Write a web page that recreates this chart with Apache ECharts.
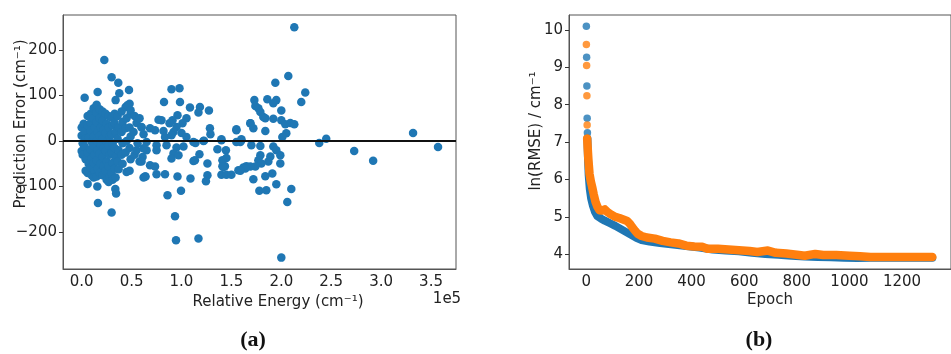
<!DOCTYPE html>
<html><head><meta charset="utf-8">
<script src="https://cdn.jsdelivr.net/npm/echarts/dist/echarts.min.js"></script>
<style>html,body{margin:0;padding:0;background:#fff}#c{width:951px;height:354px}</style>
</head><body><div id="c"></div>
<script>
// Panel (a): relative energy (units of 1e5 cm^-1) vs prediction error (cm^-1)
const errorPoints = [
 [0.00,30],[0.00,12],[0.01,-5],[0.00,-22],[0.01,-30],[0.02,38],
 [0.03,95],[0.03,20],[0.03,-12],[0.04,-40],[0.04,-65],[0.04,5],
 [0.06,55],[0.06,35],[0.06,-25],[0.07,-50],[0.06,-70],[0.06,-94],[0.07,8],
 [0.09,60],[0.09,40],[0.09,22],[0.10,-2],[0.09,-18],[0.10,-38],[0.09,-58],[0.10,-75],
 [0.12,72],[0.12,50],[0.13,30],[0.12,10],[0.12,-10],[0.13,-30],[0.12,-48],[0.13,-66],[0.12,-80],
 [0.15,80],[0.16,108],[0.15,62],[0.15,42],[0.16,20],[0.15,0],[0.16,-20],[0.15,-42],[0.16,-60],[0.15,-78],[0.157,-100],[0.163,-136],
 [0.18,70],[0.18,50],[0.19,30],[0.18,12],[0.19,-8],[0.18,-28],[0.19,-50],[0.18,-70],
 [0.21,65],[0.21,45],[0.22,25],[0.21,5],[0.22,-15],[0.21,-35],[0.22,-55],[0.21,-75],[0.227,178],
 [0.24,60],[0.25,38],[0.24,18],[0.25,-2],[0.24,-22],[0.25,-45],[0.24,-65],[0.25,-85],
 [0.27,55],[0.27,30],[0.28,10],[0.27,-10],[0.28,-30],[0.27,-55],[0.28,-78],[0.27,-90],
 [0.30,140],[0.30,52],[0.31,35],[0.30,15],[0.31,-5],[0.30,-25],[0.31,-48],[0.30,-70],[0.31,-85],[0.30,-157],
 [0.33,60],[0.34,90],[0.33,40],[0.34,20],[0.33,-15],[0.34,-35],[0.33,-60],[0.34,-80],[0.337,-105],[0.345,-115],
 [0.367,128],[0.377,105],[0.36,55],[0.37,30],[0.36,5],[0.37,-20],[0.36,-45],[0.37,-62],
 [0.40,65],[0.41,42],[0.40,20],[0.41,-5],[0.40,-30],[0.41,-50],
 [0.44,75],[0.45,50],[0.44,28],[0.45,0],[0.44,-25],[0.45,-68],
 [0.474,112],[0.48,82],[0.49,60],[0.48,30],[0.49,10],[0.48,-15],[0.49,-40],[0.48,-65],[0.46,79],[0.49,68],
 [0.53,55],[0.55,40],[0.52,20],[0.56,-5],[0.53,-30],[0.58,-45],[0.55,-20],[0.60,30],[0.62,15],[0.61,-35],[0.62,-80],[0.64,-78],[0.65,-20],[0.58,50],
 [0.90,114],[0.98,116],[0.825,86],[0.985,86],[1.085,74],[1.185,75],[1.17,63],[1.275,67],[0.96,57],[1.05,50],
 [0.91,46],[0.77,47],[0.80,46],[0.88,39],[1.01,39],[0.95,31],[0.685,28],[0.60,31],[0.735,24],[0.82,22],
 [0.92,20],[1.00,18],[1.285,28],[1.29,15],[1.55,26],[1.69,39],[0.835,9],[0.90,13],[1.05,9],[1.12,-2],
 [1.22,0],[1.40,2],[1.59,-2],[0.65,-2],[0.75,-9],[0.85,-9],[0.95,-14],[1.02,-12],[0.62,-16],[0.75,-20],
 [0.92,-27],[0.90,-38],[0.97,-31],[1.36,-18],[1.445,-20],[1.45,-37],[1.18,-29],[1.135,-42],[1.12,-44],[1.26,-49],
 [1.435,-55],[0.685,-53],[0.735,-56],[0.60,-45],[0.635,-78],[0.75,-73],[0.835,-73],[0.96,-78],[1.09,-82],[1.26,-75],
 [1.245,-88],[1.42,-57],[1.40,-74],[1.45,-74],[1.50,-74],[1.57,-64],[1.62,-58],[1.65,-55],
 [0.86,-119],[0.995,-109],[0.935,-165],[0.945,-218],[1.17,-214],
 [1.225,1],[1.14,-4],[1.55,-2],[1.60,4],[1.40,4],[1.41,-42],[1.41,-55],[1.55,24],
 [2.13,250],[2.07,143],[1.94,128],[2.24,107],[2.20,86],[1.86,92],[1.95,90],[1.73,90],[1.92,83],
 [1.74,77],[1.77,72],[1.79,64],[1.82,53],[1.84,50],[2.00,67],[1.92,49],[1.69,39],[1.72,28],[1.84,22],
 [2.00,46],[2.04,37],[2.09,40],[2.13,37],[2.05,17],[2.01,9],[2.38,-4],[2.45,5],[1.60,2],[1.70,-9],
 [1.79,-11],[1.92,-12],[1.95,-20],[1.99,-31],[1.89,-34],[1.87,-45],[1.99,-49],[1.79,-31],[1.77,-42],[1.80,-49],
 [1.74,-56],[1.69,-56],[1.64,-60],[1.59,-65],[1.72,-84],[1.84,-77],[1.91,-71],[1.95,-95],[1.78,-109],[1.85,-108],
 [2.10,-105],[2.06,-134],[2.00,-256],
 [3.32,18],[2.73,-22],[2.92,-43],[3.57,-13]
];
const energyTicks = [0.0,0.5,1.0,1.5,2.0,2.5,3.0,3.5];
const errorTicks = [-200,-100,0,100,200];

// Panel (b): ln(RMSE) vs epoch
const blueEarly = [[0,10.1],[1,9.27],[2,8.5],[3,7.64],[4,7.25]];
const orangeEarly = [[0,9.61],[1,9.05],[2,8.24],[3,7.46]];
const blueCurve = [[4,7.1],[6,6.6],[9,6.1],[13,5.75],[18,5.5],[25,5.3],[33,5.13],[42,5.02],[55,4.96],[70,4.9],[90,4.83],[110,4.76],[130,4.68],[150,4.6],[170,4.52],[190,4.44],[210,4.38],[240,4.34],[280,4.3],[330,4.26],[380,4.22],[430,4.18],[480,4.13],[530,4.1],[580,4.08],[630,4.04],[680,4.01],[730,3.99],[780,3.96],[830,3.94],[880,3.93],[930,3.92],[980,3.91],[1030,3.9],[1080,3.91],[1150,3.91],[1220,3.91],[1315,3.91]];
const orangeCurve = [[3,7.1],[5,6.85],[8,6.5],[12,6.15],[17,5.95],[22,5.8],[28,5.6],[35,5.4],[42,5.27],[50,5.18],[60,5.17],[70,5.2],[80,5.13],[95,5.06],[110,5.0],[125,4.97],[140,4.93],[155,4.89],[165,4.82],[175,4.72],[185,4.63],[195,4.55],[210,4.49],[230,4.45],[260,4.42],[290,4.36],[320,4.32],[350,4.29],[380,4.23],[410,4.21],[440,4.2],[460,4.15],[500,4.15],[540,4.13],[580,4.11],[620,4.09],[650,4.06],[690,4.1],[720,4.04],[760,4.02],[800,3.99],[830,3.96],[870,4.01],[900,3.98],[950,3.98],[1000,3.96],[1040,3.95],[1080,3.93],[1150,3.93],[1250,3.93],[1315,3.93]];
const epochTicks = [0,200,400,600,800,1000,1200];
const rmseTicks = [4,5,6,7,8,9,10];

const FONT = 'DejaVu Sans';
const TXT = '#222';
const minus = v => (v < 0 ? '\u2212' + Math.abs(v) : String(v));

function valAxis(gridIndex, min, max, ticks, fmt, tickShow) {
  return {
    type: 'value', gridIndex, min, max,
    axisLine: { show: true, onZero: false, lineStyle: { color: '#555', width: 1 } },
    splitLine: { show: false },
    axisTick: { show: tickShow, customValues: ticks, length: 4, lineStyle: { color: '#333', width: 1 } },
    axisLabel: { customValues: ticks, formatter: fmt, fontFamily: FONT, fontSize: 15, color: TXT, margin: 6 }
  };
}

const chart = echarts.init(document.getElementById('c'), null, { renderer: 'canvas' });
chart.setOption({
  animation: false,
  backgroundColor: '#fff',
  grid: [
    { left: 63, top: 15, width: 393, height: 254, show: true, borderColor: '#555', borderWidth: 1 },
    { left: 569, top: 15, width: 396, height: 254, show: true, borderColor: '#555', borderWidth: 1 }
  ],
  xAxis: [
    valAxis(0, -0.187, 3.75, energyTicks, v => v.toFixed(1), false),
    valAxis(1, -66, 1386, epochTicks, v => String(v), false)
  ],
  yAxis: [
    valAxis(0, -281, 277, errorTicks, minus, true),
    valAxis(1, 3.607, 10.40, rmseTicks, v => String(v), true)
  ],
  series: [
    {
      type: 'scatter', xAxisIndex: 0, yAxisIndex: 0, data: errorPoints,
      symbolSize: 8.5, itemStyle: { color: '#1f77b4', opacity: 1 },
      markLine: {
        silent: true, symbol: 'none', label: { show: false },
        lineStyle: { color: '#111', width: 2, type: 'solid' },
        data: [{ yAxis: 0 }], z: 10
      }
    },
    {
      type: 'line', xAxisIndex: 1, yAxisIndex: 1, data: blueCurve, showSymbol: false,
      lineStyle: { color: '#1f77b4', width: 8, cap: 'round', join: 'round' }
    },
    {
      type: 'scatter', xAxisIndex: 1, yAxisIndex: 1, data: blueEarly,
      symbolSize: 7.5, itemStyle: { color: '#1f77b4' }
    },
    {
      type: 'line', xAxisIndex: 1, yAxisIndex: 1, data: orangeCurve, showSymbol: false,
      lineStyle: { color: '#ff7f0e', width: 8.5, cap: 'round', join: 'round' }
    },
    {
      type: 'scatter', xAxisIndex: 1, yAxisIndex: 1, data: orangeEarly,
      symbolSize: 7.5, itemStyle: { color: '#ff7f0e' }
    }
  ],
  graphic: [
    { type: 'text', x: 278, y: 302, style: { text: 'Relative Energy (cm\u207B\u00B9)', font: '15px "DejaVu Sans"', fill: TXT, align: 'center', verticalAlign: 'middle' } },
    { type: 'text', x: 447, y: 299, style: { text: '1e5', font: '15px "DejaVu Sans"', fill: TXT, align: 'center', verticalAlign: 'middle' } },
    { type: 'text', x: 21, y: 124, rotation: Math.PI / 2, style: { text: 'Prediction Error (cm\u207B\u00B9)', font: '15px "DejaVu Sans"', fill: TXT, align: 'center', verticalAlign: 'middle' } },
    { type: 'text', x: 770, y: 300, style: { text: 'Epoch', font: '15px "DejaVu Sans"', fill: TXT, align: 'center', verticalAlign: 'middle' } },
    { type: 'text', x: 536, y: 131, rotation: Math.PI / 2, style: { text: 'ln(RMSE) / cm\u207B\u00B9', font: '15px "DejaVu Sans"', fill: TXT, align: 'center', verticalAlign: 'middle' } },
    { type: 'text', x: 253, y: 340, style: { text: '(a)', font: 'bold 22px "Liberation Serif"', fill: '#111', align: 'center', verticalAlign: 'middle' } },
    { type: 'text', x: 759, y: 340, style: { text: '(b)', font: 'bold 22px "Liberation Serif"', fill: '#111', align: 'center', verticalAlign: 'middle' } }
  ]
});
</script>
</body></html>
